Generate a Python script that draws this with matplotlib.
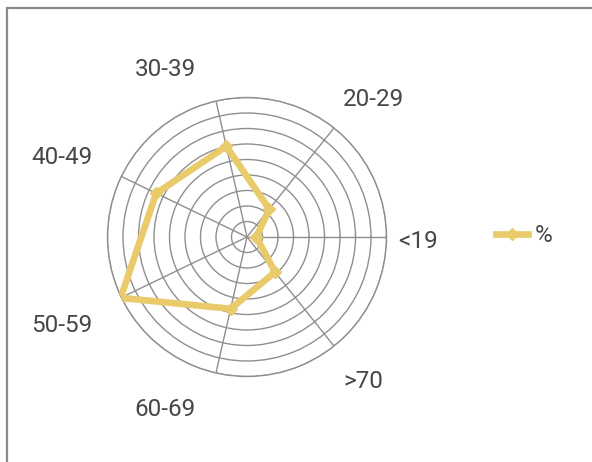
import numpy as np
import matplotlib
matplotlib.use("Agg")
from matplotlib import pyplot as plt
from matplotlib.lines import Line2D

plt.rcParams['font.family'] = ['Roboto', 'DejaVu Sans']

categories = ["<19", "20-29", "30-39", "40-49", "50-59", "60-69", ">70"]
values = [0.6, 2.3, 6.0, 6.5, 9.05, 4.75, 2.9]
series_name = "%"
ring_ticks = [1, 2, 3, 4, 5, 6, 7, 8, 9]

# layout (pixels in the 592x462 canvas, measured from top-left)
W, H = 592, 462
CX, CY, R = 247, 237, 139.5
LABEL_POS = [(418, 241), (373, 100), (165, 70), (62, 157),
             (62, 326), (165, 410), (363, 381)]
LINE_COLOR = '#E9CB6B'
GRID_COLOR = '#8f8f8f'
TEXT_COLOR = '#474747'
FONT_SIZE = 17.5

fig = plt.figure(figsize=(W / 100, H / 100), dpi=100)
ax = fig.add_axes([(CX - R) / W, (H - CY - R) / H, 2 * R / W, 2 * R / H],
                  projection='polar')

angles = np.arange(len(categories)) * 2 * np.pi / len(categories)
theta = np.append(angles, angles[0])
r = np.append(values, values[0])

ax.plot(theta, r, color=LINE_COLOR, lw=4.8, marker='D', markersize=6,
        solid_joinstyle='miter', zorder=5, label=series_name)

ax.set_ylim(0, ring_ticks[-1])
ax.set_yticks(ring_ticks)
ax.set_yticklabels([])
ax.set_xticks(angles)
ax.set_xticklabels([])
ax.grid(True, color=GRID_COLOR, lw=1.0)
ax.spines['polar'].set_color(GRID_COLOR)
ax.spines['polar'].set_linewidth(1.0)
ax.tick_params(length=0)

for name, (px, py) in zip(categories, LABEL_POS):
    fig.text(px / W, 1 - py / H, name, ha='center', va='center',
             fontsize=FONT_SIZE, color=TEXT_COLOR)

leg = ax.legend(loc='center left', bbox_to_anchor=(496 / W, 1 - 236 / H),
                bbox_transform=fig.transFigure, frameon=False,
                fontsize=FONT_SIZE, handlelength=1.3, handletextpad=0.3,
                borderpad=0, borderaxespad=0, labelcolor=TEXT_COLOR)

# chart-area frame (only top and left edges are visible in the crop)
fig.add_artist(Line2D([7 / W, 1], [1 - 7.5 / H, 1 - 7.5 / H],
                      transform=fig.transFigure, color='#8a8a8a', lw=1.6))
fig.add_artist(Line2D([7 / W, 7 / W], [0, 1 - 7.5 / H],
                      transform=fig.transFigure, color='#8a8a8a', lw=1.6))

fig.savefig("out.png", dpi=100, facecolor='white')
